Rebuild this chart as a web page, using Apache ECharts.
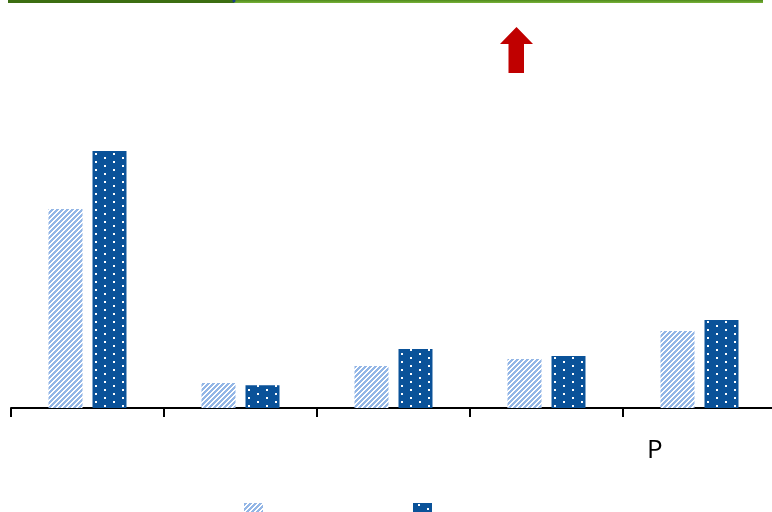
<!DOCTYPE html>
<html>
<head>
<meta charset="utf-8">
<script src="https://cdn.jsdelivr.net/npm/echarts@6/dist/echarts.min.js"></script>
<style>
html,body{margin:0;padding:0;background:#fff;overflow:hidden;}
#chart{width:776px;height:512px;}
</style>
</head>
<body>
<div id="chart"></div>
<script>
// ---- data ----
const categories = ['1', '2', '3', '4', '5'];
const seriesNames = ['Series A', 'Series B'];
const seriesA = [7.74, 0.97, 1.63, 1.91, 3.0];
const seriesB = [10.0, 0.89, 2.3, 2.02, 3.42];
const markerLabel = 'P';

// ---- patterns ----
function stripeTile() {
  const c = document.createElement('canvas');
  c.width = 5; c.height = 5;
  const g = c.getContext('2d');
  g.fillStyle = '#ffffff'; g.fillRect(0, 0, 5, 5);
  g.fillStyle = '#93b6e6';
  for (let x = 0; x < 5; x++) {
    for (let y = 0; y < 5; y++) {
      if ((x + y) % 5 < 3) g.fillRect(x, y, 1, 1);
    }
  }
  return c;
}
function dotTile() {
  const c = document.createElement('canvas');
  c.width = 18; c.height = 8;
  const g = c.getContext('2d');
  g.fillStyle = '#0a5299'; g.fillRect(0, 0, 18, 8);
  g.fillStyle = '#ffffff';
  g.fillRect(5, 1, 2, 2);
  g.fillRect(14, 5, 2, 2);
  return c;
}
const patA = { image: stripeTile(), repeat: 'repeat' };
const patB = { image: dotTile(), repeat: 'repeat' };

const chart = echarts.init(document.getElementById('chart'), null, { renderer: 'canvas' });
chart.setOption({
  animation: false,
  backgroundColor: '#ffffff',
  grid: { left: 11, top: 0, width: 765, height: 408, containLabel: false },
  legend: {
    data: seriesNames,
    left: 244, top: 503, padding: 0,
    icon: 'rect', itemWidth: 19, itemHeight: 14, itemGap: 150,
    formatter: function () { return ''; },
    textStyle: { fontSize: 1 }
  },
  xAxis: {
    type: 'category',
    data: categories,
    boundaryGap: true,
    axisLine: { lineStyle: { color: '#000', width: 2 } },
    axisTick: { show: true, length: 9, lineStyle: { color: '#000', width: 2 } },
    axisLabel: { show: false }
  },
  yAxis: {
    type: 'value', min: 0, max: 15.875,
    show: false, splitLine: { show: false }
  },
  series: [
    { name: seriesNames[0], type: 'bar', data: seriesA, barWidth: 34, barGap: '29.4%',
      itemStyle: { color: patA } },
    { name: seriesNames[1], type: 'bar', data: seriesB, barWidth: 34,
      itemStyle: { color: patB } }
  ],
  graphic: [
    { type: 'rect', shape: { x: 8, y: 0, width: 226, height: 3 }, style: { fill: '#3c6e12' } },
    { type: 'rect', shape: { x: 234, y: 0, width: 529, height: 3 },
      style: { fill: new echarts.graphic.LinearGradient(0, 0, 0, 1, [
        { offset: 0, color: '#4f8a1c' }, { offset: 1, color: '#78b238' }]) } },
    { type: 'circle', shape: { cx: 234, cy: 1, r: 1.5 }, style: { fill: '#1a3d8a' } },
    { type: 'polygon', shape: { points: [[516.5, 27], [533, 44], [524, 44], [524, 73], [508.5, 73], [508.5, 44], [500, 44]] },
      style: { fill: '#c00000' } },
    { type: 'text', left: 647, top: 438,
      style: { text: markerLabel, fontSize: 26, fontFamily: 'Open Sans', fill: '#000' } }
  ]
});
</script>
</body>
</html>
